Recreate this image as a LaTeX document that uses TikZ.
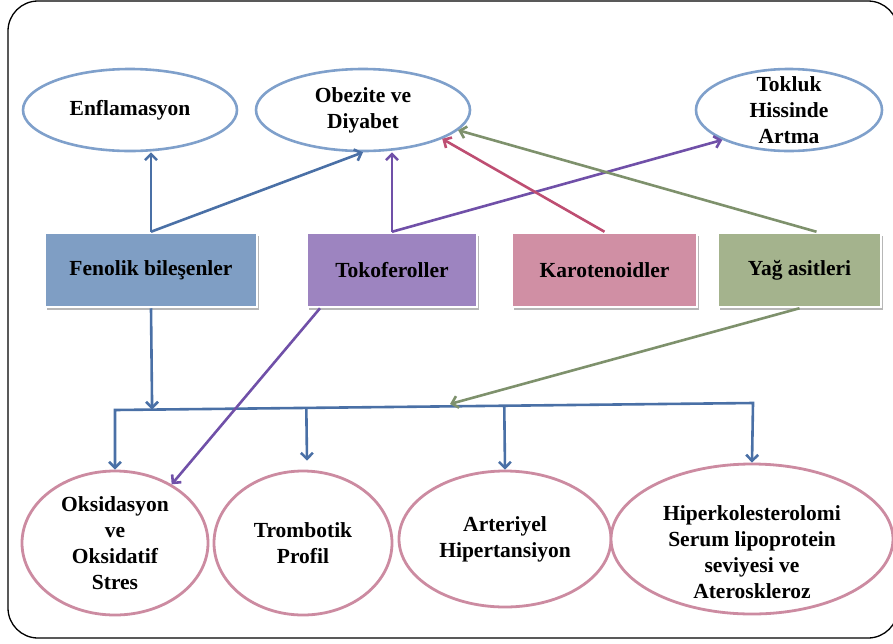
\documentclass[tikz,border=0pt]{standalone}
\usepackage{fontspec}
\setmainfont{Liberation Serif}
\usetikzlibrary{arrows.meta,shapes.geometric,calc,shadows}
\definecolor{fenC}{HTML}{7F9EC4}
\definecolor{tokC}{HTML}{9D84C0}
\definecolor{karC}{HTML}{D08FA4}
\definecolor{yagC}{HTML}{A4B38D}
\definecolor{lnB}{HTML}{4A70A6}
\definecolor{lnP}{HTML}{7050A8}
\definecolor{lnR}{HTML}{BE4E72}
\definecolor{lnG}{HTML}{7E916C}
\definecolor{ellB}{HTML}{7FA0CB}
\definecolor{ellP}{HTML}{CC8BA1}
\begin{document}
\begin{tikzpicture}[x=1pt,y=-1pt,
  txt/.style={font=\fontsize{21.5}{26}\selectfont\bfseries, align=center},
  topell/.style={ellipse, draw=ellB, line width=2.6pt, fill=white, inner sep=-12pt, txt},
  botell/.style={ellipse, draw=ellP, line width=2.8pt, fill=white, inner sep=-12pt, txt},
  srcbox/.style={rectangle, draw=white, line width=2.5pt, minimum height=74pt, txt,
    drop shadow={shadow xshift=1.5pt, shadow yshift=-2.5pt, fill=black!40, opacity=0.7}},
  arr/.style={line width=2.6pt, -{Straight Barb[length=6pt,width=12pt,line width=2.6pt]}},
  arr2/.style={line width=2.6pt, {Straight Barb[length=6pt,width=12pt,line width=2.6pt]}-{Straight Barb[length=6pt,width=12pt,line width=2.6pt]}}
]
\useasboundingbox (0,0) rectangle (893,643);
\draw[line width=1.3pt, rounded corners=30pt] (8,1) rectangle (898,638);

% top ellipses
\node[topell, minimum width=214pt, minimum height=82pt] (enf) at (130,110) {Enflamasyon};
\node[topell, minimum width=214pt, minimum height=82pt] (obz) at (363,110) {Obezite ve\\Diyabet};
\node[topell, minimum width=186pt, minimum height=82pt] (tkl) at (789,110) {Tokluk\\Hissinde\\Artma};

% source boxes
\node[srcbox, fill=fenC, minimum width=212pt] (fen) at (151,270) {Fenolik bileşenler};
\node[srcbox, fill=tokC, minimum width=170pt] (tok) at (392,270) {Tokoferoller};
\node[srcbox, fill=karC, minimum width=185pt] (kar) at (604.5,270) {Karotenoidler};
\node[srcbox, fill=yagC, minimum width=163pt] (yag) at (799.5,270) {Yağ asitleri};

% bottom ellipses
\node[botell, minimum width=186pt, minimum height=144pt] (oks) at (115,543) {Oksidasyon\\ve\\Oksidatif\\Stres};
\node[botell, minimum width=178pt, minimum height=144pt] (trb) at (303,543) {Trombotik\\Profil};
\node[botell, minimum width=212pt, minimum height=136pt] (art) at (505,539) {Arteriyel\\Hipertansiyon};
\node[botell, minimum width=282pt, minimum height=150pt] (hip) at (752,539) {};
\node[txt] (hipT) at ($(hip.center)+(0,13)$) {Hiperkolesterolomi\\Serum lipoprotein\\seviyesi ve\\Ateroskleroz};

% upward connectors
\draw[arr, lnB] (fen.north) -- (fen.north |- enf.south);
\draw[arr, lnB] (fen.north) -- (obz.south);
\draw[arr, lnP] (tok.north) -- (tok.north |- obz.south);
\draw[arr, lnP] (tok.north) -- (tkl.south west);
\draw[arr, lnR] (kar.north) -- (obz.-20.6);
\draw[arr, lnG] ([xshift=17pt]yag.north) -- (obz.-12);

% bus
\coordinate (busL) at (115,410);
\coordinate (busR) at (753,403);
\coordinate (gT) at (450,404);
\draw[arr2, lnB] (oks.north) -- (busL) -- (busR) -- (hip.north);
\draw[arr, lnB] ($(busL)!(trb.north)!(busR)+(4,0)$) -- ($(trb.north)+(4,-9)$);
\draw[arr, lnB] ($(busL)!(art.north)!(busR)$) -- (art.north);
\draw[arr, lnB] (fen.south) -- ($(busL)!(fen.south)!(busR)$);
\draw[arr, lnP] ([xshift=-72pt]tok.south) -- (oks.46);
\draw[arr, lnG] (yag.south) -- (gT);
\end{tikzpicture}
\end{document}
